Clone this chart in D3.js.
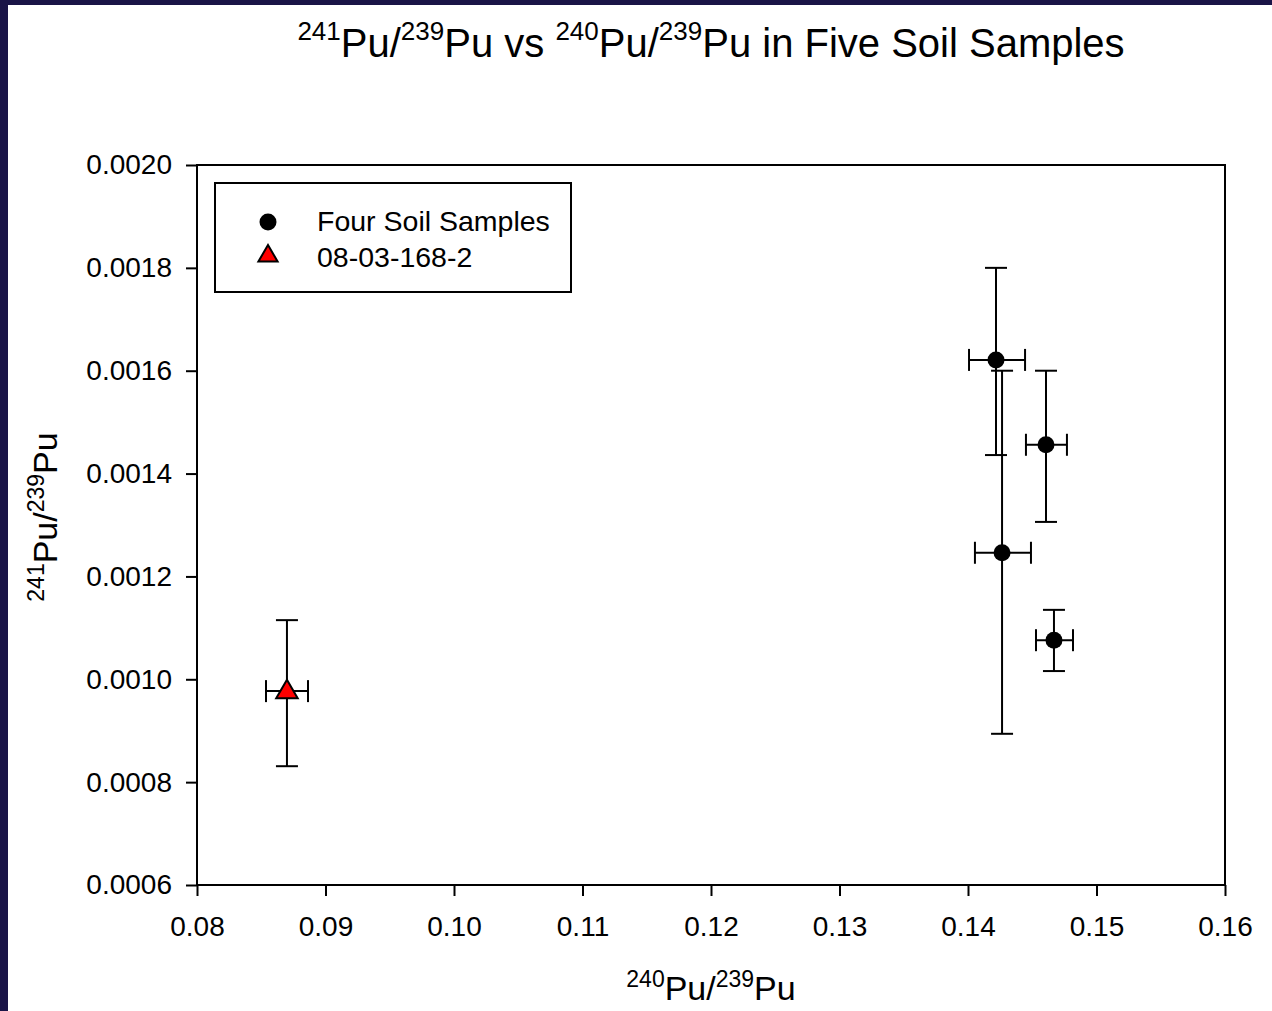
<!DOCTYPE html>
<meta charset="utf-8">
<head>
    <title>241Pu/239Pu vs 240Pu/239Pu</title>
</head>
<style>
    body { margin: 0; background: #1a1447; }
    svg { display: block; }
    text { font-family: "Liberation Sans", Arial, sans-serif; fill: #000; }
</style>
<script src="https://d3js.org/d3.v7.min.js"></script>
<body>
    <div id="chart"></div>
</body>
<script>

    // four soil samples (circles)
    var soilX = [0.14218, 0.14265, 0.14607, 0.14669];
    var soilY = [0.001621, 0.001246, 0.001456, 0.001076];
    var soilXLow = [0.14008, 0.14054, 0.14451, 0.14529];
    var soilXHigh = [0.14444, 0.14490, 0.14770, 0.14817];
    var soilYLow = [0.001436, 0.000894, 0.001306, 0.001016];
    var soilYHigh = [0.0018, 0.0016, 0.0016, 0.001135];

    // sample 08-03-168-2 (triangle)
    var sampX = [0.0870];
    var sampY = [0.000977];
    var sampXLow = [0.08537];
    var sampXHigh = [0.08864];
    var sampYLow = [0.000831];
    var sampYHigh = [0.001115];

    var xTicks = [0.08, 0.09, 0.10, 0.11, 0.12, 0.13, 0.14, 0.15, 0.16];
    var yTicks = [0.0006, 0.0008, 0.0010, 0.0012, 0.0014, 0.0016, 0.0018, 0.0020];
    var legendLabels = ["Four Soil Samples", "08-03-168-2"];

    var W = 1272, H = 1011;
    var margin = { top: 165, right: 47, bottom: 126, left: 197 },
        width = W - margin.left - margin.right,
        height = H - margin.top - margin.bottom;

    var root = d3.select("#chart").append("svg")
        .attr("width", W)
        .attr("height", H);

    // white page inside the dark frame
    root.append("rect")
        .attr("x", 8).attr("y", 5)
        .attr("width", W - 8).attr("height", H - 5)
        .attr("fill", "#fff");

    var svg = root.append("g")
        .attr("transform", "translate(" + margin.left + "," + margin.top + ")");

    var x = d3.scaleLinear().domain([0.08, 0.16]).range([0, width]);
    var y = d3.scaleLinear().domain([0.0006, 0.0020]).range([height, 0]);

    // frame
    svg.append("rect")
        .attr("width", width).attr("height", height)
        .attr("fill", "none").attr("stroke", "#000").attr("stroke-width", 2);

    var xAxis = svg.append("g")
        .attr("transform", "translate(0," + height + ")")
        .call(d3.axisBottom(x).tickValues(xTicks).tickFormat(d3.format(".2f"))
            .tickSize(11).tickSizeOuter(0).tickPadding(20));

    var yAxis = svg.append("g")
        .call(d3.axisLeft(y).tickValues(yTicks).tickFormat(d3.format(".4f"))
            .tickSize(11).tickSizeOuter(0).tickPadding(14));

    [xAxis, yAxis].forEach(function (a) {
        a.select(".domain").remove();
        a.selectAll("line").attr("stroke", "#000").attr("stroke-width", 2);
        a.selectAll("text")
            .attr("fill", "#000")
            .style("font-size", "28px")
            .style("font-family", "'Liberation Sans', Arial, sans-serif");
    });

    // error bars
    var cap = 11;
    function errorBars(xs, ys, xl, xh, yl, yh) {
        var g = svg.append("g").attr("stroke", "#000").attr("stroke-width", 2);
        xs.forEach(function (d, i) {
            var cx = x(d), cy = y(ys[i]);
            g.append("line").attr("x1", cx).attr("x2", cx).attr("y1", y(yl[i])).attr("y2", y(yh[i]));
            g.append("line").attr("x1", cx - cap).attr("x2", cx + cap).attr("y1", y(yl[i])).attr("y2", y(yl[i]));
            g.append("line").attr("x1", cx - cap).attr("x2", cx + cap).attr("y1", y(yh[i])).attr("y2", y(yh[i]));
            g.append("line").attr("x1", x(xl[i])).attr("x2", x(xh[i])).attr("y1", cy).attr("y2", cy);
            g.append("line").attr("x1", x(xl[i])).attr("x2", x(xl[i])).attr("y1", cy - cap).attr("y2", cy + cap);
            g.append("line").attr("x1", x(xh[i])).attr("x2", x(xh[i])).attr("y1", cy - cap).attr("y2", cy + cap);
        });
    }
    errorBars(soilX, soilY, soilXLow, soilXHigh, soilYLow, soilYHigh);
    errorBars(sampX, sampY, sampXLow, sampXHigh, sampYLow, sampYHigh);

    var circleSym = d3.symbol().type(d3.symbolCircle).size(Math.PI * 8.5 * 8.5);
    var triSym = d3.symbol().type(d3.symbolTriangle).size(200);

    svg.selectAll(".soil")
        .data(soilX)
        .enter().append("path")
        .attr("class", "soil")
        .attr("d", circleSym)
        .attr("transform", function (d, i) { return "translate(" + x(d) + "," + y(soilY[i]) + ")"; })
        .attr("fill", "#000");

    svg.selectAll(".samp")
        .data(sampX)
        .enter().append("path")
        .attr("class", "samp")
        .attr("d", triSym)
        .attr("transform", function (d, i) { return "translate(" + x(d) + "," + (y(sampY[i]) + 1) + ")"; })
        .attr("fill", "#ff0000").attr("stroke", "#000").attr("stroke-width", 2);

    // legend
    var leg = root.append("g");
    leg.append("rect")
        .attr("x", 215).attr("y", 183).attr("width", 356).attr("height", 109)
        .attr("fill", "#fff").attr("stroke", "#000").attr("stroke-width", 2);
    leg.append("path").attr("d", circleSym)
        .attr("transform", "translate(268,222)").attr("fill", "#000");
    leg.append("path").attr("d", d3.symbol().type(d3.symbolTriangle).size(160))
        .attr("transform", "translate(268,256)")
        .attr("fill", "#ff0000").attr("stroke", "#000").attr("stroke-width", 2);
    leg.selectAll(".lt")
        .data(legendLabels)
        .enter().append("text")
        .attr("class", "lt")
        .attr("x", 317)
        .attr("y", function (d, i) { return 231 + i * 36; })
        .style("font-size", "28.5px")
        .text(function (d) { return d; });

    // label helper with superscripts
    function isoLabel(sel, parts, big, small, rise) {
        parts.forEach(function (p) {
            if (p[0] === "sup") {
                sel.append("tspan").attr("dy", -rise).style("font-size", small + "px").text(p[1]);
            } else {
                sel.append("tspan").attr("dy", p[2] ? rise : 0).style("font-size", big + "px").text(p[1]);
            }
        });
    }

    // title
    var title = root.append("text")
        .attr("x", margin.left + width / 2).attr("y", 57)
        .attr("text-anchor", "middle");
    isoLabel(title, [["sup", "241"], ["n", "Pu/", true], ["sup", "239"], ["n", "Pu vs ", true],
        ["sup", "240"], ["n", "Pu/", true], ["sup", "239"], ["n", "Pu in Five Soil Samples", true]], 40, 26, 17);

    // x label
    var xl = root.append("text")
        .attr("x", margin.left + width / 2).attr("y", 1000)
        .attr("text-anchor", "middle");
    isoLabel(xl, [["sup", "240"], ["n", "Pu/", true], ["sup", "239"], ["n", "Pu", true]], 34, 23, 13);

    // y label
    var yl = root.append("text")
        .attr("transform", "translate(57,517) rotate(-90)")
        .attr("text-anchor", "middle");
    isoLabel(yl, [["sup", "241"], ["n", "Pu/", true], ["sup", "239"], ["n", "Pu", true]], 34, 23, 13);

</script>
